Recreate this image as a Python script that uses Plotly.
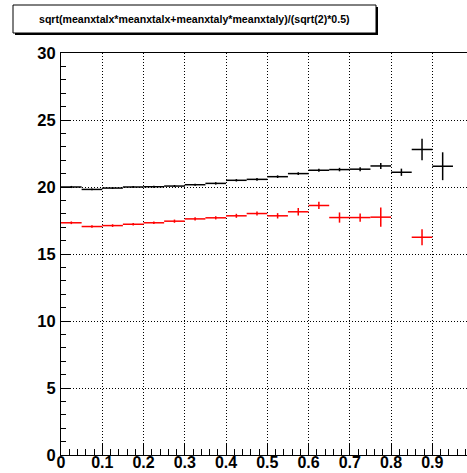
import plotly.graph_objects as go

# ---- data ----
bin_half_width = 0.025

black_x = [0.025, 0.075, 0.125, 0.175, 0.225, 0.275, 0.325, 0.375, 0.425, 0.475,
           0.525, 0.575, 0.625, 0.675, 0.725, 0.775, 0.825, 0.875, 0.925]
black_y = [20.0, 19.82, 19.92, 20.0, 20.02, 20.07, 20.17, 20.27, 20.5, 20.57,
           20.77, 21.0, 21.25, 21.3, 21.33, 21.57, 21.1, 22.8, 21.55]
black_err = [0.08, 0.07, 0.07, 0.07, 0.08, 0.08, 0.08, 0.09, 0.09, 0.1,
             0.1, 0.11, 0.12, 0.13, 0.15, 0.22, 0.27, 0.8, 1.04]

red_x = [0.025, 0.075, 0.125, 0.175, 0.225, 0.275, 0.325, 0.375, 0.425, 0.475,
         0.525, 0.575, 0.625, 0.675, 0.725, 0.775, 0.875]
red_y = [17.33, 17.05, 17.12, 17.22, 17.33, 17.45, 17.62, 17.7, 17.85, 18.02,
         17.85, 18.15, 18.62, 17.72, 17.72, 17.75, 16.25]
red_err = [0.1, 0.1, 0.1, 0.1, 0.1, 0.12, 0.12, 0.12, 0.15, 0.15,
           0.2, 0.28, 0.27, 0.38, 0.31, 0.72, 0.6]

x_tick_vals = [0, 0.1, 0.2, 0.3, 0.4, 0.5, 0.6, 0.7, 0.8, 0.9]
x_tick_text = ["0", "0.1", "0.2", "0.3", "0.4", "0.5", "0.6", "0.7", "0.8", "0.9"]
y_tick_vals = [0, 5, 10, 15, 20, 25, 30]
y_tick_text = ["0", "5", "10", "15", "20", "25", "30"]

title_text = "sqrt(meanxtalx*meanxtalx+meanxtaly*meanxtaly)/(sqrt(2)*0.5)"

# ---- figure ----
W, H = 467, 473
ML, MT, MB, MR = 61, 53, 18, 0
PW, PH = W - ML - MR, H - MT - MB


def px_to_paper_x(px):
    return (px - ML) / PW


def px_to_paper_y(py):
    return (H - MB - py) / PH


def hist_trace(x, y, err, color):
    return go.Scatter(
        x=x, y=y, mode="markers",
        marker=dict(size=1, color=color),
        error_x=dict(type="constant", value=bin_half_width, color=color,
                     thickness=1.5, width=0),
        error_y=dict(type="data", array=err, color=color, thickness=1.5, width=0),
        showlegend=False, hoverinfo="skip",
    )


fig = go.Figure()
fig.add_trace(hist_trace(black_x, black_y, black_err, "#000000"))
fig.add_trace(hist_trace(red_x, red_y, red_err, "#ff0000"))

x_tick_font = dict(family="Liberation Sans", size=16, color="black", weight="bold")
y_tick_font = dict(family="Liberation Sans", size=16.5, color="black", weight="bold")

fig.update_layout(
    width=W, height=H,
    margin=dict(l=ML, r=MR, t=MT, b=MB, pad=0, autoexpand=False),
    paper_bgcolor="white", plot_bgcolor="white",
    xaxis=dict(
        range=[0, 0.984], tickvals=x_tick_vals, ticktext=x_tick_text,
        ticks="inside", ticklen=12, tickwidth=1, tickcolor="black",
        minor=dict(dtick=0.02, tick0=0, ticks="inside", ticklen=6, tickcolor="black",
                   showgrid=False),
        showgrid=True, gridcolor="black", griddash="1px,2px", gridwidth=1,
        zeroline=False, showline=True, linecolor="black", linewidth=1, mirror=True,
        tickfont=x_tick_font, ticklabelstandoff=-7, automargin=False,
    ),
    yaxis=dict(
        range=[0, 30], tickvals=y_tick_vals, ticktext=y_tick_text,
        ticks="inside", ticklen=9, tickwidth=1, tickcolor="black",
        minor=dict(dtick=1, tick0=0, ticks="inside", ticklen=5, tickcolor="black",
                   showgrid=False),
        showgrid=True, gridcolor="black", griddash="1px,2px", gridwidth=1,
        zeroline=False, showline=True, linecolor="black", linewidth=1, mirror=True,
        tickfont=y_tick_font, ticklabelstandoff=1, automargin=False,
    ),
)

# title box with shadow
bx0, bx1, by0, by1 = 13, 376, 5, 33
fig.add_shape(type="rect", xref="paper", yref="paper",
              x0=px_to_paper_x(bx0 + 2), x1=px_to_paper_x(bx1 + 2),
              y0=px_to_paper_y(by1 + 2), y1=px_to_paper_y(by0 + 2),
              fillcolor="black", line=dict(width=0))
fig.add_shape(type="rect", xref="paper", yref="paper",
              x0=px_to_paper_x(bx0), x1=px_to_paper_x(bx1),
              y0=px_to_paper_y(by1), y1=px_to_paper_y(by0),
              fillcolor="white", line=dict(color="black", width=1))
fig.add_annotation(
    text=title_text, xref="paper", yref="paper",
    x=px_to_paper_x((bx0 + bx1) / 2), y=px_to_paper_y((by0 + by1) / 2),
    xanchor="center", yanchor="middle", showarrow=False,
    font=dict(family="Liberation Sans", size=10.6, color="black", weight="bold"),
)

fig.write_html("out.html")
